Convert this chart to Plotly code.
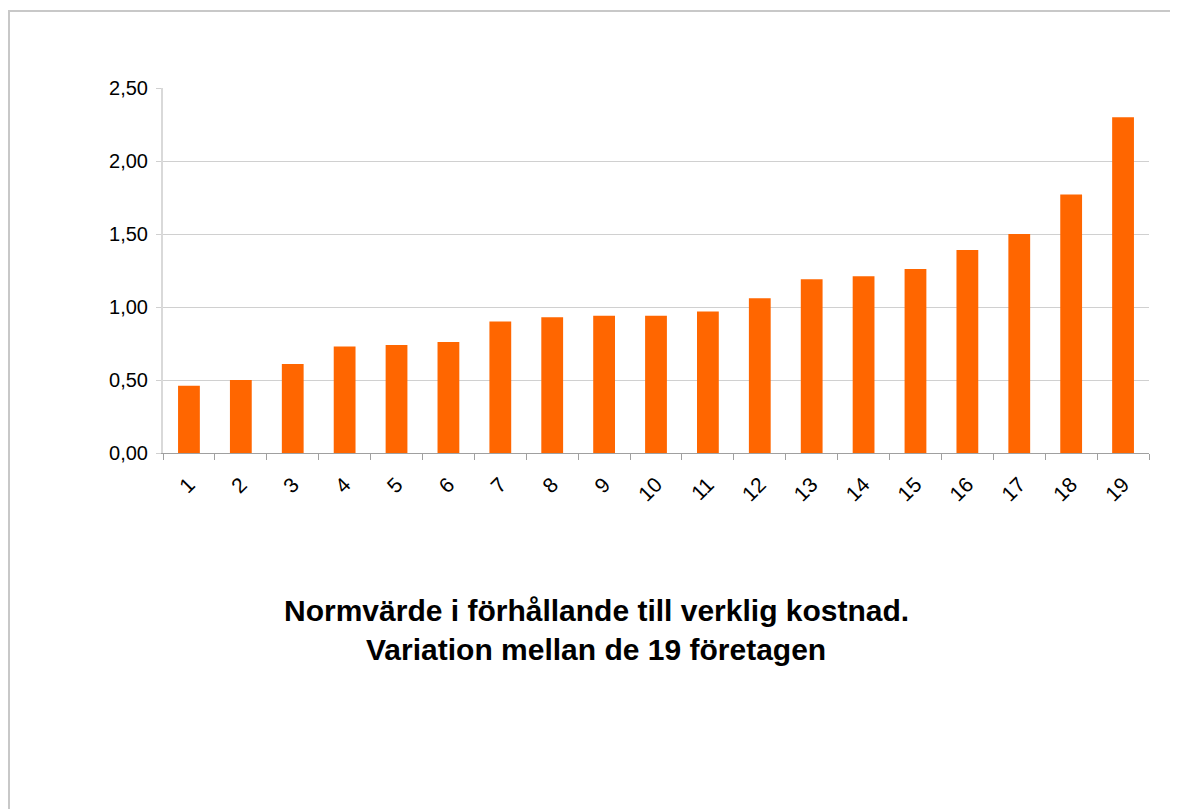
import plotly.graph_objects as go

categories = [str(i) for i in range(1, 20)]
values = [0.46, 0.50, 0.61, 0.73, 0.74, 0.76, 0.90, 0.93, 0.94, 0.94,
          0.97, 1.06, 1.19, 1.21, 1.26, 1.39, 1.50, 1.77, 2.30]
y_ticks = [0, 0.5, 1.0, 1.5, 2.0, 2.5]
title_lines = ["Normvärde i förhållande till verklig kostnad.",
               "Variation mellan de 19 företagen"]

OFF = 8  # page body margin
W, H = 1170, 801
L, R, T, B = 163 - OFF, 1149 - OFF, 88 - OFF, 453 - OFF
pw, ph = R - L, B - T

def px(x):
    return (x - OFF - L) / pw

def py(y):
    return (B - (y - OFF)) / ph

fig = go.Figure()
fig.add_trace(go.Bar(x=categories, y=values, marker=dict(color="#FF6600", line=dict(width=0)),
                     width=0.42))

fig.update_layout(
    width=W, height=H,
    margin=dict(l=L, r=W - R, t=T, b=H - B),
    paper_bgcolor="white", plot_bgcolor="white",
    separators=",.",
    showlegend=False,
    font=dict(family="Liberation Sans, Arial, sans-serif", color="black"),
    xaxis=dict(
        type="category", tickangle=-45, tickson="boundaries",
        ticks="outside", ticklen=6, tickcolor="#a0a0a0", tickwidth=1,
        showline=True, linecolor="#a0a0a0", linewidth=1,
        showgrid=False, tickfont=dict(size=21, color="black"),
        ticklabelstandoff=10,
        range=[-0.5, 18.5],
    ),
    yaxis=dict(
        range=[0, 2.5], tickvals=y_ticks, tickformat=".2f",
        ticks="outside", ticklen=5, tickcolor="#d0d0d0",
        showline=True, linecolor="#d9d9d9", linewidth=2,
        showgrid=True, gridcolor="#d0d0d0", gridwidth=1,
        zeroline=False, tickfont=dict(size=20, color="black"),
        ticklabelstandoff=4,
    ),
    shapes=[dict(type="rect", xref="paper", yref="paper",
                 x0=px(9), x1=px(1200), y0=py(830), y1=py(11),
                 line=dict(color="#c8c8c8", width=2), fillcolor="rgba(0,0,0,0)", layer="below")],
)

for line, yc in zip(title_lines, [610, 649]):
    fig.add_annotation(text="<b>" + line + "</b>", xref="paper", yref="paper",
                       x=px(596), y=py(yc), xanchor="center", yanchor="middle",
                       showarrow=False, font=dict(size=30, color="black"))

fig.write_html("out.html")
